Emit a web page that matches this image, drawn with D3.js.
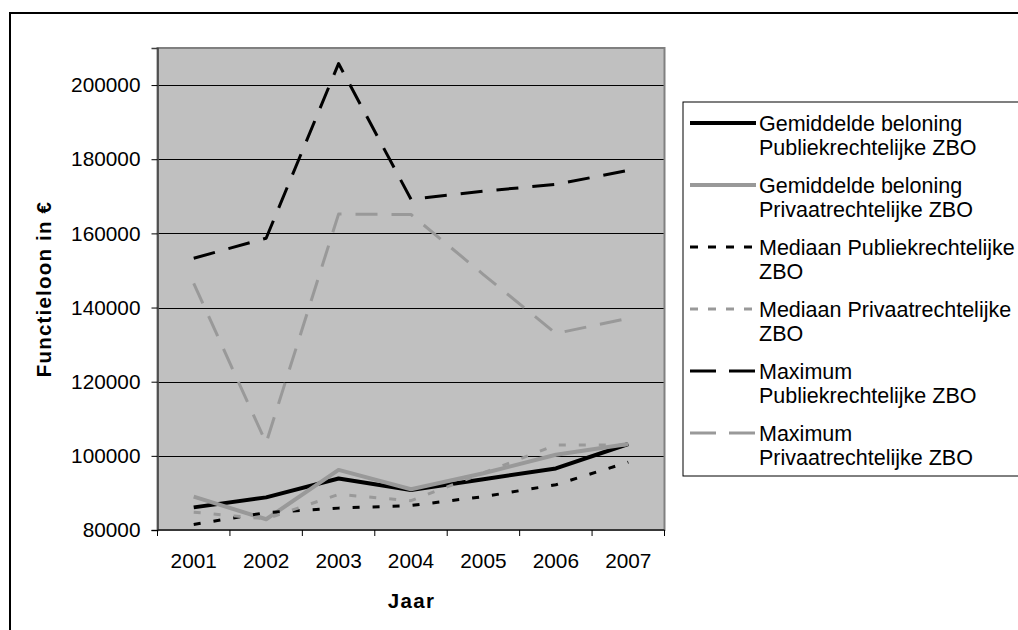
<!DOCTYPE html>
<html>
<head>
<meta charset="utf-8">
<script src="https://cdn.jsdelivr.net/npm/d3@7"></script>
<style>
  html, body { margin: 0; padding: 0; background: #fff; overflow: hidden; }
  svg { display: block; font-family: "Liberation Sans", Arial, sans-serif; }
</style>
</head>
<body>
<svg id="chart" width="1018" height="630"></svg>
<script>
// Salarissen ZBO's 2001-2007
const years = ["2001", "2002", "2003", "2004", "2005", "2006", "2007"];
const gemPubliek = [86100, 88800, 93900, 90800, 93700, 96600, 103200];
const gemPrivaat = [89000, 82900, 96200, 91000, 95300, 100300, 103200];
const medPubliek = [81500, 84700, 85900, 86600, 89000, 92200, 98300];
const medPrivaat = [84800, 83000, 89600, 87900, 95400, 102900, 102900];
const maxPubliek = [153300, 158700, 205800, 169200, 171400, 173200, 177000];
const maxPrivaat = [146500, 103500, 165200, 165100, 148900, 133000, 137100];
const yTicks = [80000, 100000, 120000, 140000, 160000, 180000, 200000];
const seriesNames = [
  ["Gemiddelde beloning", "Publiekrechtelijke ZBO"],
  ["Gemiddelde beloning", "Privaatrechtelijke ZBO"],
  ["Mediaan Publiekrechtelijke", "ZBO"],
  ["Mediaan Privaatrechtelijke", "ZBO"],
  ["Maximum", "Publiekrechtelijke ZBO"],
  ["Maximum", "Privaatrechtelijke ZBO"]
];

const FONT = "'Liberation Sans', Arial, sans-serif";
const seriesValues = [gemPubliek, gemPrivaat, medPubliek, medPrivaat, maxPubliek, maxPrivaat];
const styles = [
  { color: "#000000", width: 4, dash: null,    legendDash: null },
  { color: "#999999", width: 4, dash: null,    legendDash: null },
  { color: "#000000", width: 3, dash: "7,13",  legendDash: "8,10" },
  { color: "#999999", width: 3, dash: "7,13",  legendDash: "8,10" },
  { color: "#000000", width: 3, dash: "22,14", legendDash: "26,13" },
  { color: "#999999", width: 3, dash: "22,14", legendDash: "26,13" }
];

const svg = d3.select("#chart").attr("font-family", FONT);

// outer frame
svg.append("rect")
  .attr("x", 10).attr("y", 13)
  .attr("width", 1100).attr("height", 700)
  .attr("fill", "#fff").attr("stroke", "#000").attr("stroke-width", 2);

const plot = { left: 157.5, right: 664.5, top: 48, bottom: 530 };

const x = d3.scaleBand().domain(years).range([plot.left, plot.right]).padding(0);
const y = d3.scaleLinear().domain([80000, 210000]).range([plot.bottom, plot.top]);

// plot area
svg.append("rect")
  .attr("x", plot.left).attr("y", plot.top)
  .attr("width", plot.right - plot.left).attr("height", plot.bottom - plot.top)
  .attr("fill", "#c0c0c0");

// gridlines
svg.append("g")
  .selectAll("line")
  .data(yTicks.filter(d => d > 80000))
  .join("line")
  .attr("x1", plot.left).attr("x2", plot.right)
  .attr("y1", d => Math.round(y(d)) + 0.5).attr("y2", d => Math.round(y(d)) + 0.5)
  .attr("stroke", "#000").attr("stroke-width", 1);

// plot area border
svg.append("rect")
  .attr("x", plot.left).attr("y", plot.top)
  .attr("width", plot.right - plot.left).attr("height", plot.bottom - plot.top)
  .attr("fill", "none").attr("stroke", "#808080").attr("stroke-width", 2);

// y axis
const yAxis = d3.axisLeft(y).tickValues(yTicks).tickFormat(d3.format("d")).tickSizeOuter(0).tickSize(6).tickPadding(11);
const gy = svg.append("g").attr("transform", `translate(${plot.left},0)`).call(yAxis);
gy.select(".domain").attr("stroke", "#404040").attr("stroke-width", 1.5);
gy.selectAll(".tick line").attr("stroke", "#000");
gy.selectAll(".tick text")
  .attr("font-size", "20.8px").attr("fill", "#000")
  .attr("font-family", FONT);

// x axis: ticks between the categories
const xAxisG = svg.append("g");
xAxisG.append("line")
  .attr("x1", plot.left).attr("x2", plot.right)
  .attr("y1", plot.bottom).attr("y2", plot.bottom)
  .attr("stroke", "#202020").attr("stroke-width", 1.5);
const boundaries = years.map(d => x(d)).concat([x(years[years.length - 1]) + x.bandwidth()]);
xAxisG.selectAll("line.tk")
  .data(boundaries)
  .join("line").attr("class", "tk")
  .attr("x1", d => d).attr("x2", d => d)
  .attr("y1", plot.bottom).attr("y2", plot.bottom + 6)
  .attr("stroke", "#000").attr("stroke-width", 1);
xAxisG.selectAll("text")
  .data(years)
  .join("text")
  .attr("x", d => x(d) + x.bandwidth() / 2)
  .attr("y", 567.5)
  .attr("text-anchor", "middle")
  .attr("font-size", "20.8px")
  .attr("fill", "#000")
  .text(d => d);

// axis titles
svg.append("text")
  .attr("x", 411.5).attr("y", 607.5)
  .attr("text-anchor", "middle")
  .attr("font-size", "20.5px").attr("font-weight", "bold")
  .attr("letter-spacing", "1.3px")
  .text("Jaar");

svg.append("text")
  .attr("transform", `translate(50.5,${(plot.top + plot.bottom) / 2}) rotate(-90)`)
  .attr("text-anchor", "middle")
  .attr("font-size", "20.5px").attr("font-weight", "bold")
  .attr("letter-spacing", "1.2px")
  .text("Functieloon in €");

// series lines
const line = d3.line()
  .x((d, i) => x(years[i]) + x.bandwidth() / 2)
  .y(d => y(d));

svg.append("g")
  .selectAll("path")
  .data(seriesValues)
  .join("path")
  .attr("d", d => line(d))
  .attr("fill", "none")
  .attr("stroke", (d, i) => styles[i].color)
  .attr("stroke-width", (d, i) => styles[i].width)
  .attr("stroke-dasharray", (d, i) => styles[i].dash)
  .attr("stroke-linejoin", "round");

// legend
const legend = svg.append("g");
legend.append("rect")
  .attr("x", 683).attr("y", 102)
  .attr("width", 400).attr("height", 374)
  .attr("fill", "#fff").attr("stroke", "#000").attr("stroke-width", 1);

const items = legend.selectAll("g.item")
  .data(seriesNames)
  .join("g").attr("class", "item")
  .attr("transform", (d, i) => `translate(0,${123 + i * 62})`);

items.append("line")
  .attr("x1", 690).attr("x2", 756)
  .attr("y1", 0).attr("y2", 0)
  .attr("stroke", (d, i) => styles[i].color)
  .attr("stroke-width", (d, i) => styles[i].width)
  .attr("stroke-dasharray", (d, i) => styles[i].legendDash);

items.each(function (d) {
  const g = d3.select(this);
  d.forEach((t, j) => {
    g.append("text")
      .attr("x", 759)
      .attr("y", 7.5 + j * 24.5)
      .attr("font-size", "21.5px")
      .attr("fill", "#000")
      .text(t);
  });
});
</script>
</body>
</html>
